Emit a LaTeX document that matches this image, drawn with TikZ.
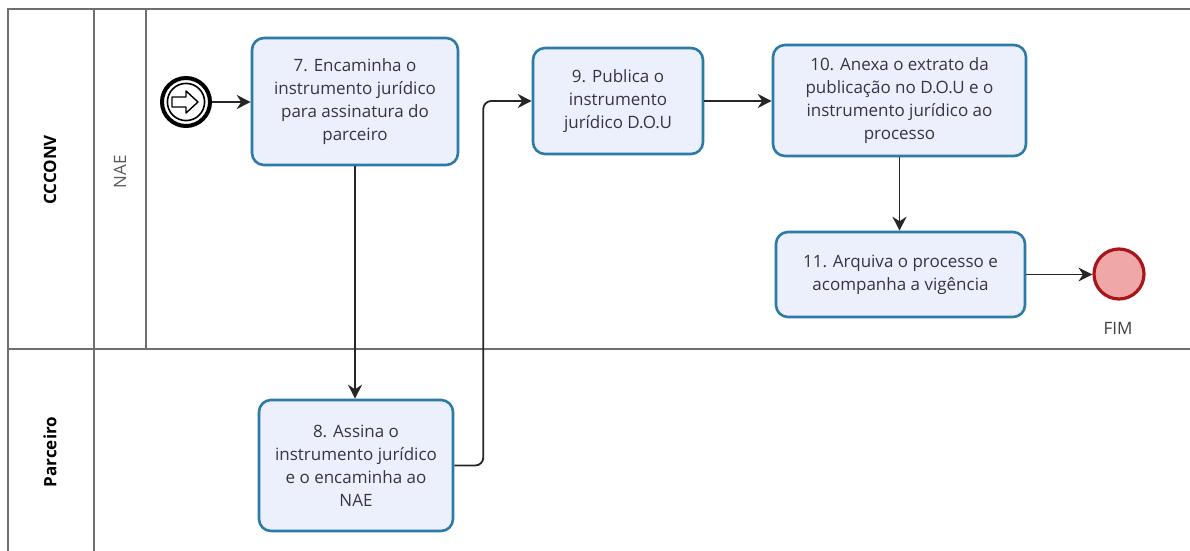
\documentclass[tikz,border=0pt]{standalone}
\usepackage{fontspec}
\setmainfont{Open Sans}
\usepackage{tikz}
\usetikzlibrary{arrows,arrows.meta,positioning}
\usepackage{xcolor}
\definecolor{taskfill}{HTML}{EBF0FC}
\definecolor{taskline}{HTML}{2B7BA6}
\definecolor{tasktext}{HTML}{3A3248}
\definecolor{lanegray}{HTML}{6E6E6E}
\definecolor{fimfill}{HTML}{EFA7A7}
\definecolor{fimline}{HTML}{A8161B}

\begin{document}
\begin{tikzpicture}[x=0.5pt, y=-0.5pt, >={Stealth[length=7pt,width=7pt]}]
\useasboundingbox (0,0) rectangle (1190,551);
\tikzstyle{lane} = [draw=lanegray, line width=1pt]
\tikzstyle{task} = [rectangle, rounded corners=6pt, draw=taskline, fill=taskfill, line width=1.3pt,
	text=tasktext, align=center, font=\fontsize{8.5}{11.5}\selectfont, inner sep=2pt]
\tikzstyle{flow} = [->, line width=0.9pt, black!85]
% pool and lanes
\draw[lane] (1190,9) -- (8,9) -- (8,551);
\draw[lane] (94,9) -- (94,551);
\draw[lane] (146,9) -- (146,349);
\draw[lane] (8,349) -- (1190,349);
\node[rotate=90, font=\bfseries\fontsize{8.5}{10}\selectfont] (ccconv) at (50,170) {CCCONV};
\node[rotate=90, font=\bfseries\fontsize{8.5}{10}\selectfont] (parceiro) at (50,452) {Parceiro};
\node[rotate=90, text=black!65, font=\fontsize{8.5}{10}\selectfont] (nae) at (120,172) {NAE};
% start event
\node[circle, draw, line width=2pt, minimum size=24pt, inner sep=0pt] (start) at (186,102) {};
\draw[line width=0.8pt] (start) circle (9.3pt);
\draw[line width=0.7pt, fill=white, line join=round] ([shift={(-14,-5)}]start.center) -- ++(14,0) -- ++(0,-6)
	-- ++(12,11) -- ++(-12,11) -- ++(0,-6) -- ++(-14,0) -- cycle;
% tasks
\node[task, minimum width=103pt, minimum height=63.5pt] (t7) at (355,101.5)
	{7. Encaminha o\\instrumento jurídico\\para assinatura do\\parceiro};
\node[task, minimum width=97pt, minimum height=65.5pt] (t8) at (356,465.5)
	{8. Assina o\\instrumento jurídico\\e o encaminha ao\\NAE};
\node[task, minimum width=85pt, minimum height=53pt] (t9) at (618,101)
	{9. Publica o\\instrumento\\jurídico D.O.U};
\node[task, minimum width=126.5pt, minimum height=55.5pt] (t10) at (899.5,100.5)
	{10. Anexa o extrato da\\publicação no D.O.U e o\\instrumento jurídico ao\\processo};
\node[task, minimum width=124.5pt, minimum height=42.5pt] (t11) at (900.5,274.5)
	{11. Arquiva o processo e\\acompanha a vigência};
% end event
\node[circle, draw=fimline, fill=fimfill, line width=1.6pt, minimum size=25pt, inner sep=0pt] (fim) at (1119,274) {};
\node[text=black!75, font=\fontsize{8.5}{10}\selectfont] (fimlabel) at (1118,328) {FIM};
% flows
\draw[flow] (start) -- (t7.west |- start);
\draw[flow] (t7.south) -- (t8.north -| t7.south);
\draw[flow, rounded corners=4] (t8.east) -- ++(29,0) |- (t9.west);
\draw[flow] (t9.east) -- (t10.west |- t9.east);
\draw[flow] (t10.south) -- (t10.south |- t11.north);
\draw[flow] (t11.east) -- (fim.west |- t11.east);
\end{tikzpicture}
\end{document}
